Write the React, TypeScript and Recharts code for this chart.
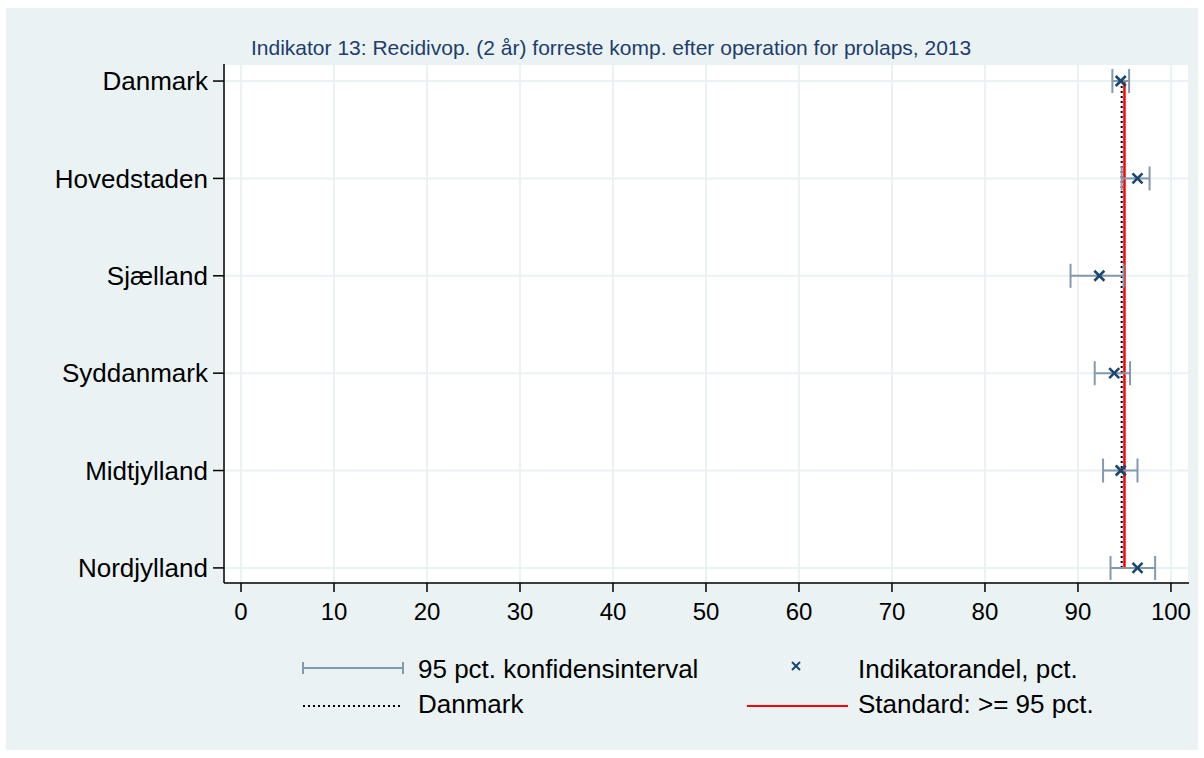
import React from "react";
import {
  CartesianGrid,
  ComposedChart,
  ErrorBar,
  ReferenceLine,
  Scatter,
  XAxis,
  YAxis
} from "recharts";

const regions = ["Danmark", "Hovedstaden", "Sjælland", "Syddanmark", "Midtjylland", "Nordjylland"];
const share = [94.6, 96.4, 92.3, 93.9, 94.6, 96.4];
const ciLow = [93.7, 94.7, 89.2, 91.8, 92.7, 93.5];
const ciHigh = [95.5, 97.7, 94.9, 95.6, 96.4, 98.3];
const xTicks = [0, 10, 20, 30, 40, 50, 60, 70, 80, 90, 100];
const danmarkLevel = 94.7;
const standardLevel = 95;

const title = "Indikator 13: Recidivop. (2 år) forreste komp. efter operation for prolaps, 2013";

const rows = regions.map((name, i) => ({
  name,
  y: i,
  x: share[i],
  err: [share[i] - ciLow[i], ciHigh[i] - share[i]]
}));

const FONT = "'Liberation Sans', Arial, sans-serif";
const NAVY = "#1a476f";
const CI = "#8299ae";

const XMark = (props: any) => {
  const { cx, cy } = props;
  const s = 5;
  return (
    <g stroke={NAVY} strokeWidth={2.6}>
      <line x1={cx - s} y1={cy - s} x2={cx + s} y2={cy + s} />
      <line x1={cx - s} y1={cy + s} x2={cx + s} y2={cy - s} />
    </g>
  );
};

const legendText: React.CSSProperties = {
  position: "absolute",
  fontFamily: FONT,
  fontSize: 26,
  color: "#000",
  lineHeight: "26px",
  whiteSpace: "nowrap"
};

export default function App() {
  return (
    <div style={{ position: "absolute", left: 0, top: 0, width: 1204, height: 758, background: "#fff" }}>
      <div style={{ position: "absolute", left: 6, top: 8, width: 1192, height: 742, background: "#eaf2f3" }} />
      <div
        style={{
          position: "absolute",
          left: 251,
          top: 37,
          fontFamily: FONT,
          fontSize: 21,
          color: "#1f3d6b",
          whiteSpace: "nowrap",
          lineHeight: "22px"
        }}
      >
        {title}
      </div>
      <div style={{ position: "absolute", left: 0, top: 0 }}>
        <ComposedChart width={1204} height={758} data={rows} margin={{ top: 64, right: 15, bottom: 135, left: 0 }}>
          <CartesianGrid fill="#fff" stroke="#eaf2f3" strokeWidth={2} />
          <XAxis
            type="number"
            dataKey="x"
            domain={[-1.83, 101.94]}
            allowDataOverflow
            ticks={xTicks}
            height={40}
            tickSize={9}
            tickMargin={11}
            axisLine={{ stroke: "#000", strokeWidth: 1.5 }}
            tickLine={{ stroke: "#000", strokeWidth: 1.5 }}
            tick={{ fill: "#000", fontSize: 24, fontFamily: FONT }}
          />
          <YAxis
            type="number"
            dataKey="y"
            domain={[-0.175, 5.155]}
            allowDataOverflow
            reversed
            ticks={[0, 1, 2, 3, 4, 5]}
            tickFormatter={(v) => regions[v] ?? ""}
            width={224}
            tickSize={11}
            tickMargin={5}
            axisLine={{ stroke: "#000", strokeWidth: 1.5 }}
            tickLine={{ stroke: "#000", strokeWidth: 1.5 }}
            tick={{ fill: "#000", fontSize: 26, fontFamily: FONT }}
          />
          <ReferenceLine
            segment={[{ x: danmarkLevel, y: 0 }, { x: danmarkLevel, y: 5 }]}
            stroke="#000"
            strokeWidth={2}
            strokeDasharray="2 3"
          />
          <ReferenceLine
            segment={[{ x: standardLevel, y: 0 }, { x: standardLevel, y: 5 }]}
            stroke="#ff0000"
            strokeWidth={2.5}
          />
          <Scatter dataKey="y" shape={XMark} isAnimationActive={false}>
            <ErrorBar dataKey="err" direction="x" width={12} stroke={CI} strokeWidth={2} isAnimationActive={false} />
          </Scatter>
        </ComposedChart>
      </div>

      {/* legend */}
      <svg style={{ position: "absolute", left: 0, top: 0 }} width={1204} height={758}>
        <g stroke={CI} strokeWidth={2}>
          <line x1={303} y1={668} x2={403} y2={668} />
          <line x1={303} y1={662} x2={303} y2={674} />
          <line x1={403} y1={662} x2={403} y2={674} />
        </g>
        <g stroke={NAVY} strokeWidth={2}>
          <line x1={792} y1={662} x2={800} y2={670} />
          <line x1={792} y1={670} x2={800} y2={662} />
        </g>
        <line x1={303} y1={706} x2={403} y2={706} stroke="#000" strokeWidth={2} strokeDasharray="2 3" />
        <line x1={747} y1={706} x2={848} y2={706} stroke="#ff0000" strokeWidth={2} />
      </svg>
      <div style={{ ...legendText, left: 418, top: 656 }}>95 pct. konfidensinterval</div>
      <div style={{ ...legendText, left: 858, top: 656 }}>Indikatorandel, pct.</div>
      <div style={{ ...legendText, left: 418, top: 691 }}>Danmark</div>
      <div style={{ ...legendText, left: 858, top: 691 }}>Standard: &gt;= 95 pct.</div>
    </div>
  );
}
